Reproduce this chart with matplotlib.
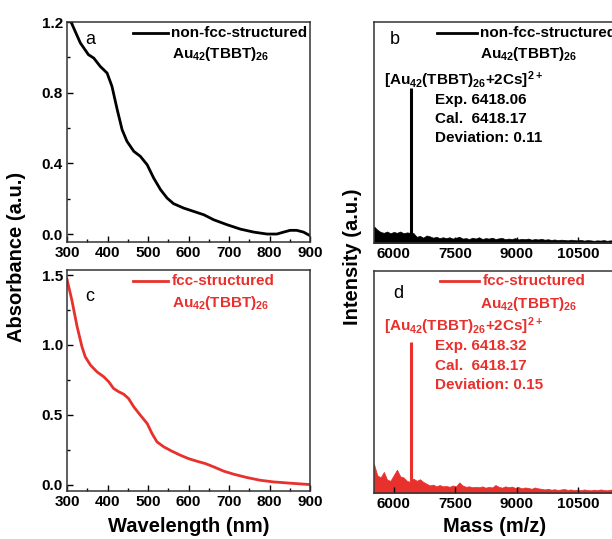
import numpy as np
import matplotlib
matplotlib.use("Agg")
import matplotlib.pyplot as plt
from matplotlib.ticker import MultipleLocator

plt.rcParams['font.family'] = ['Liberation Sans', 'DejaVu Sans']
plt.rcParams['font.weight'] = 'bold'
plt.rcParams['mathtext.fontset'] = 'custom'
plt.rcParams['mathtext.rm'] = 'Liberation Sans:bold'
plt.rcParams['mathtext.default'] = 'rm'

RED = '#e8302c'

# UV-vis absorbance, non-fcc (a)
wl_a = [300, 310, 333, 353, 366, 382, 399, 411, 424, 436, 448, 465, 481, 498, 514,
        531, 547, 563, 588, 613, 638, 662, 695, 728, 761, 794, 818, 835, 851, 867,
        884, 900]
abs_a = [1.27, 1.20, 1.081, 1.015, 0.996, 0.949, 0.911, 0.836, 0.704, 0.591, 0.525,
         0.468, 0.44, 0.392, 0.317, 0.251, 0.204, 0.172, 0.147, 0.128, 0.109, 0.081,
         0.053, 0.028, 0.011, 0.0, 0.0, 0.011, 0.021, 0.021, 0.011, -0.009]

# UV-vis absorbance, fcc (c)
wl_c = [300, 312, 325, 337, 345, 358, 374, 391, 403, 415, 428, 440, 452, 465, 481,
        498, 510, 522, 539, 559, 580, 600, 621, 642, 662, 687, 712, 745, 777, 810,
        851, 900]
abs_c = [1.47, 1.32, 1.13, 0.986, 0.915, 0.855, 0.807, 0.771, 0.736, 0.688, 0.664,
         0.647, 0.616, 0.556, 0.497, 0.437, 0.365, 0.306, 0.27, 0.239, 0.21, 0.186,
         0.167, 0.15, 0.127, 0.096, 0.074, 0.05, 0.031, 0.019, 0.01, 0.0]

# ESI-MS, intensity in % of axis height
mass = np.arange(5520, 12160, 80)
int_b = [7.5, 6.0, 5.0, 4.6, 5.2, 4.4, 5.0, 4.6, 5.2, 4.4, 4.8, 4.6,
         4.5, 2.8, 3.2, 2.4, 3.4, 3.0, 2.4, 2.8, 2.2, 2.6,
         2.2, 2.6, 2.0, 2.4, 2.8, 2.0, 2.2, 1.8, 2.4, 2.0,
         2.6, 1.8, 2.2, 2.0, 2.4, 1.8, 2.1, 2.3, 1.7, 2.0,
         1.8, 2.2, 1.6, 1.9, 1.7, 2.0, 1.5, 1.8, 1.6, 1.9,
         1.5, 1.7, 1.4, 1.6, 1.3, 1.5, 1.4, 1.2, 1.5, 1.3,
         1.2, 1.4, 1.1, 1.3, 1.2, 1.0, 1.2, 1.1, 1.3, 1.0,
         1.2, 1.1, 1.3, 1.4, 1.2, 1.5, 1.3, 1.4, 1.6, 1.4, 1.5]
int_d = [13.0, 8.0, 7.0, 9.5, 6.0, 5.5, 8.0, 10.5, 7.5, 7.0, 5.5, 5.0,
         6.5, 5.5, 6.2, 5.0, 4.2, 3.4, 3.8, 3.0, 3.6, 3.0,
         3.2, 2.8, 3.4, 3.0, 4.8, 3.4, 2.8, 3.0, 2.6, 2.8,
         2.6, 3.0, 2.4, 2.8, 2.5, 3.6, 2.8, 2.4, 3.0, 2.6,
         2.9, 2.3, 2.7, 2.1, 2.5, 2.3, 1.9, 2.5, 2.1, 1.9,
         1.6, 1.9, 1.5, 1.7, 1.4, 1.6, 1.8, 1.4, 1.6, 1.3,
         1.5, 1.3, 1.6, 1.4, 1.2, 1.5, 1.3, 1.6, 1.4, 1.2,
         1.5, 1.7, 1.4, 1.6, 1.3, 1.5, 1.7, 1.4, 1.6, 1.5, 1.4]
peak_mass = 6418
peak_b = 70
peak_d = 68

label_top = ['non-fcc-structured', 'fcc-structured']
label_species = 'Au$_{42}$(TBBT)$_{26}$'
label_ion = '[Au$_{42}$(TBBT)$_{26}$+2Cs]$^{2+}$'
info_b = ['Exp. 6418.06', 'Cal.  6418.17', 'Deviation: 0.11']
info_d = ['Exp. 6418.32', 'Cal.  6418.17', 'Deviation: 0.15']

fig = plt.figure(figsize=(6.12, 5.39), dpi=100)
W, H = 612, 539


def px_axes(x0, y0, x1, y1):
    return fig.add_axes([x0 / W, 1 - y1 / H, (x1 - x0) / W, (y1 - y0) / H])


ax_a = px_axes(67, 22, 310, 242)
ax_c = px_axes(67, 270, 310, 491)
ax_b = px_axes(374, 22, 644, 243)
ax_d = px_axes(374, 271, 644, 493)

for ax in (ax_a, ax_b, ax_c, ax_d):
    for s in ax.spines.values():
        s.set_linewidth(1.1)
        s.set_color('#333333')
    ax.tick_params(which='major', direction='in', length=4, width=1, labelsize=11, pad=3)
    ax.tick_params(which='minor', direction='in', length=2.5, width=1)

# absorbance panels
ax_a.plot(wl_a, abs_a, color='black', lw=2.0)
ax_a.set_xlim(300, 900)
ax_a.set_ylim(-0.045, 1.2)
ax_a.set_yticks([0.0, 0.4, 0.8, 1.2])
ax_a.set_yticklabels(['0.0', '0.4', '0.8', '1.2'])
ax_a.yaxis.set_minor_locator(MultipleLocator(0.2))

ax_c.plot(wl_c, abs_c, color=RED, lw=2.0)
ax_c.set_xlim(300, 900)
ax_c.set_ylim(-0.046, 1.536)
ax_c.set_yticks([0.0, 0.5, 1.0, 1.5])
ax_c.set_yticklabels(['0.0', '0.5', '1.0', '1.5'])
ax_c.yaxis.set_minor_locator(MultipleLocator(0.25))

for ax in (ax_a, ax_c):
    ax.set_xticks(range(300, 901, 100))
    ax.xaxis.set_minor_locator(MultipleLocator(50))

# mass spectra
for ax, ints, pk, col in ((ax_b, int_b, peak_b, 'black'), (ax_d, int_d, peak_d, RED)):
    ax.fill_between(mass, 0, ints, color=col, lw=0.5)
    ax.vlines(peak_mass, 0, pk, color=col, lw=2.2)
    ax.set_xlim(5520, 12100)
    ax.set_ylim(0, 100)
    ax.set_yticks([])
    ax.set_xticks([6000, 7500, 9000, 10500])

# legends and annotations
fs = 11


def legend_block(ax, lx, ly, tx, ty2, name, col):
    ax.plot([lx, lx + 0.145], [ly, ly], color=col, lw=2.0, transform=ax.transAxes)
    ax.text(lx + 0.158, ly, name, color=col, fontsize=fs, fontweight='bold',
            va='center', ha='left', transform=ax.transAxes)
    ax.text(tx, ty2, label_species, color=col, fontsize=fs, fontweight='bold',
            va='center', ha='left', transform=ax.transAxes)


legend_block(ax_a, 0.272, 0.95, 0.432, 0.855, label_top[0], 'black')
legend_block(ax_c, 0.272, 0.95, 0.432, 0.85, label_top[1], RED)
legend_block(ax_b, 0.235, 0.95, 0.393, 0.855, label_top[0], 'black')
legend_block(ax_d, 0.245, 0.955, 0.393, 0.85, label_top[1], RED)

ax_a.text(0.075, 0.92, 'a', fontsize=13, fontweight='normal', va='center', transform=ax_a.transAxes)
ax_c.text(0.075, 0.88, 'c', fontsize=13, fontweight='normal', va='center', transform=ax_c.transAxes)
ax_b.text(0.06, 0.92, 'b', fontsize=13, fontweight='normal', va='center', transform=ax_b.transAxes)
ax_d.text(0.07, 0.9, 'd', fontsize=13, fontweight='normal', va='center', transform=ax_d.transAxes)

for ax, info, col, y0 in ((ax_b, info_b, 'black', 0.735), (ax_d, info_d, RED, 0.75)):
    ax.text(0.036, y0, label_ion, color=col, fontsize=fs, fontweight='bold',
            va='center', ha='left', transform=ax.transAxes)
    for i, line in enumerate(info):
        ax.text(0.226, y0 - 0.09 - i * 0.086, line, color=col, fontsize=fs,
                fontweight='bold', va='center', ha='left', transform=ax.transAxes)

fig.text(17 / W, 1 - 257 / H, 'Absorbance (a.u.)', rotation=90, fontsize=14.5,
         fontweight='bold', ha='center', va='center')
fig.text(352 / W, 1 - 257 / H, 'Intensity (a.u.)', rotation=90, fontsize=14.5,
         fontweight='bold', ha='center', va='center')
fig.text(189 / W, 1 - 526 / H, 'Wavelength (nm)', fontsize=14.5,
         fontweight='bold', ha='center', va='center')
fig.text(495 / W, 1 - 526 / H, 'Mass (m/z)', fontsize=14.5,
         fontweight='bold', ha='center', va='center')

fig.savefig('out.png', dpi=100)
